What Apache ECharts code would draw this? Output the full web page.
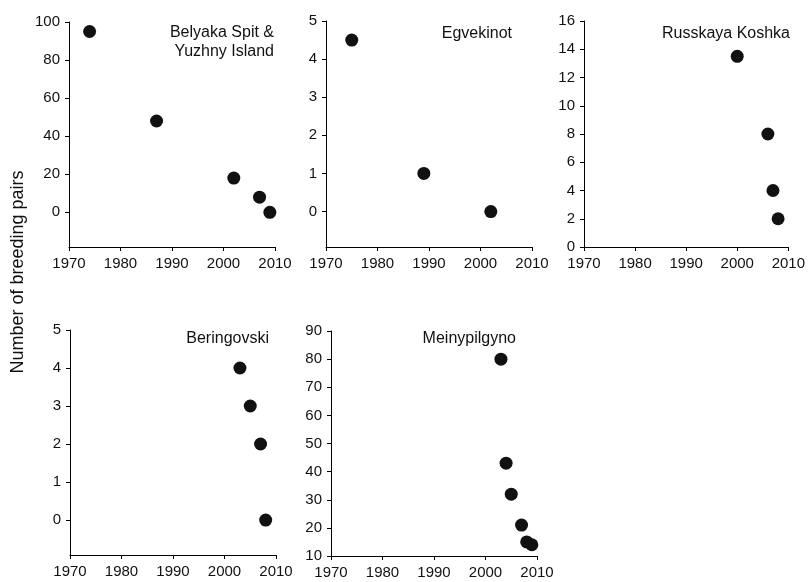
<!DOCTYPE html>
<html>
<head>
<meta charset="utf-8">
<script src="https://cdn.jsdelivr.net/npm/echarts@6/dist/echarts.min.js"></script>
<style>
html,body{margin:0;padding:0;background:#fff;}
#chart{width:808px;height:582px;}
</style>
</head>
<body>
<div id="chart"></div>
<script>
// ---- data ----
const yearTicks = [1970, 1980, 1990, 2000, 2010];

const belyakaYears = [1974, 1987, 2002, 2007, 2009];
const belyakaPairs = [95, 48, 18, 8, 0];
const belyakaTicks = [0, 20, 40, 60, 80, 100];

const egvekinotYears = [1975, 1989, 2002];
const egvekinotPairs = [4.5, 1, 0];
const egvekinotTicks = [0, 1, 2, 3, 4, 5];

const russkayaYears = [2000, 2006, 2007, 2008];
const russkayaPairs = [13.5, 8, 4, 2];
const russkayaTicks = [0, 2, 4, 6, 8, 10, 12, 14, 16];

const beringovskiYears = [2003, 2005, 2007, 2008];
const beringovskiPairs = [4, 3, 2, 0];
const beringovskiTicks = [0, 1, 2, 3, 4, 5];

const meinyYears = [2003, 2004, 2005, 2007, 2008, 2009];
const meinyPairs = [80, 43, 32, 21, 15, 14];
const meinyTicks = [10, 20, 30, 40, 50, 60, 70, 80, 90];

const panelTitles = ['Belyaka Spit &\nYuzhny Island', 'Egvekinot', 'Russkaya Koshka', 'Beringovski', 'Meinypilgyno'];
const yAxisName = 'Number of breeding pairs';

// ---- layout ----
const FONT = 'Liberation Sans, Arial, sans-serif';
const grids = [
  {left: 69, top: 22, width: 206, height: 225},
  {left: 326, top: 21, width: 206, height: 226},
  {left: 584, top: 21, width: 206, height: 226},
  {left: 70, top: 330, width: 206, height: 225},
  {left: 331, top: 331, width: 206, height: 225}
];
const yRanges = [
  {min: -18.2, max: 100, ticks: belyakaTicks},
  {min: -0.93, max: 5, ticks: egvekinotTicks},
  {min: 0, max: 16, ticks: russkayaTicks},
  {min: -0.92, max: 5, ticks: beringovskiTicks},
  {min: 10, max: 90, ticks: meinyTicks}
];
const series = [
  [belyakaYears, belyakaPairs],
  [egvekinotYears, egvekinotPairs],
  [russkayaYears, russkayaPairs],
  [beringovskiYears, beringovskiPairs],
  [meinyYears, meinyPairs]
];
const titlePos = [
  {x: 274, top: 23},
  {x: 512, top: 24},
  {x: 790, top: 24},
  {x: 269, top: 329},
  {x: 516, top: 329}
];

const axisLine = {show: true, onZero: false, lineStyle: {color: '#000', width: 1}};
const axisTick = {show: true, inside: false, length: 4, lineStyle: {color: '#000', width: 1}};
const labelStyle = {color: '#111', fontFamily: FONT, fontSize: 15};

const option = {
  backgroundColor: '#fff',
  animation: false,
  title: panelTitles.map((t, i) => ({
    text: t,
    left: titlePos[i].x,
    top: titlePos[i].top,
    padding: 0,
    textAlign: 'right',
    textStyle: {fontFamily: FONT, fontSize: 16, fontWeight: 'normal', color: '#111', lineHeight: 19, align: 'right'}
  })),
  grid: grids,
  xAxis: grids.map((g, i) => ({
    type: 'value', gridIndex: i, min: 1970, max: 2010, interval: 10,
    axisLine: axisLine, axisTick: axisTick, splitLine: {show: false},
    axisLabel: Object.assign({margin: 9, formatter: v => String(v), customValues: yearTicks}, labelStyle)
  })),
  yAxis: yRanges.map((r, i) => ({
    type: 'value', gridIndex: i, min: r.min, max: r.max,
    axisLine: axisLine,
    axisTick: Object.assign({customValues: r.ticks}, axisTick),
    splitLine: {show: false},
    axisLabel: Object.assign({margin: 9, customValues: r.ticks, formatter: v => String(v)}, labelStyle)
  })),
  graphic: [{
    type: 'text',
    x: 9, y: 272,
    rotation: Math.PI / 2,
    style: {text: yAxisName, fontFamily: FONT, fontSize: 18, fill: '#111', textAlign: 'center', textVerticalAlign: 'top'}
  }],
  series: series.map((s, i) => ({
    type: 'scatter', xAxisIndex: i, yAxisIndex: i,
    symbol: 'circle', symbolSize: 13,
    itemStyle: {color: '#111', opacity: 1},
    data: s[0].map((x, j) => [x, s[1][j]])
  }))
};

const chart = echarts.init(document.getElementById('chart'), null, {renderer: 'canvas'});
chart.setOption(option);
</script>
</body>
</html>
